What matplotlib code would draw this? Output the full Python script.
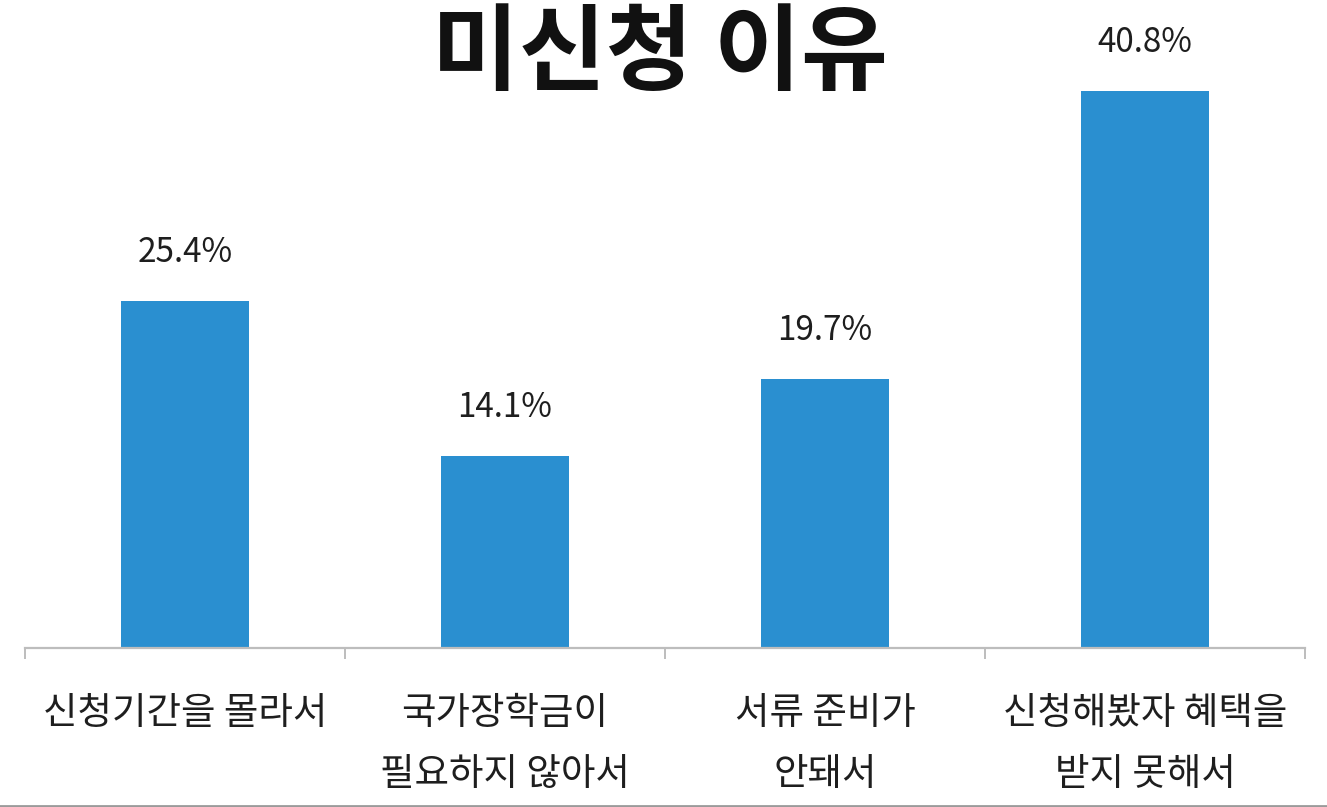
import matplotlib
matplotlib.use("Agg")
import matplotlib.pyplot as plt
from matplotlib.lines import Line2D

plt.rcParams["font.family"] = ["Noto Sans CJK KR", "DejaVu Sans"]

categories = ["신청기간을 몰라서", "국가장학금이\n필요하지 않아서", "서류 준비가\n안돼서", "신청해봤자 혜택을\n받지 못해서"]
values = [25.4, 14.1, 19.7, 40.8]
value_labels = ["25.4%", "14.1%", "19.7%", "40.8%"]
title = "미신청 이유"

BAR_COLOR = "#2A8FD0"
AXIS_COLOR = "#BDBDBD"
TEXT_COLOR = "#1E1E1E"

W, H = 1327, 807
fig = plt.figure(figsize=(W / 100, H / 100), dpi=100)
ax = fig.add_axes([25 / W, (H - 648) / H, 1280 / W, 648 / H])

x = list(range(len(categories)))
bars = ax.bar(x, values, width=0.4, color=BAR_COLOR, zorder=2)

for rect, lab in zip(bars, value_labels):
    ax.annotate(lab, xy=(rect.get_x() + rect.get_width() / 2, rect.get_height()),
                xytext=(0, 35), textcoords="offset points",
                ha="center", va="center", fontsize=24, color=TEXT_COLOR)

ax.set_xlim(-0.5, len(categories) - 0.5)
ax.set_ylim(0, 47.5)

for side in ["left", "right", "top"]:
    ax.spines[side].set_visible(False)
ax.spines["bottom"].set_color(AXIS_COLOR)
ax.spines["bottom"].set_linewidth(1.6)

ax.set_yticks([])
ax.set_xticks(x)
ax.set_xticklabels(categories, fontsize=27, color=TEXT_COLOR, linespacing=1.75, va="top")
ax.tick_params(axis="x", which="major", length=0, pad=33)
ax.set_xticks([i - 0.5 for i in range(len(categories) + 1)], minor=True)
ax.tick_params(axis="x", which="minor", length=8, width=1.4, color=AXIS_COLOR)

fig.text(0.497, 1 - 83 / H, title, ha="center", va="baseline",
         fontsize=68, fontweight="black", color="#111111")

fig.add_artist(Line2D([0, 1], [1.5 / H, 1.5 / H], transform=fig.transFigure,
                      color="#9A9A9A", linewidth=2))

fig.savefig("out.png", dpi=100)
